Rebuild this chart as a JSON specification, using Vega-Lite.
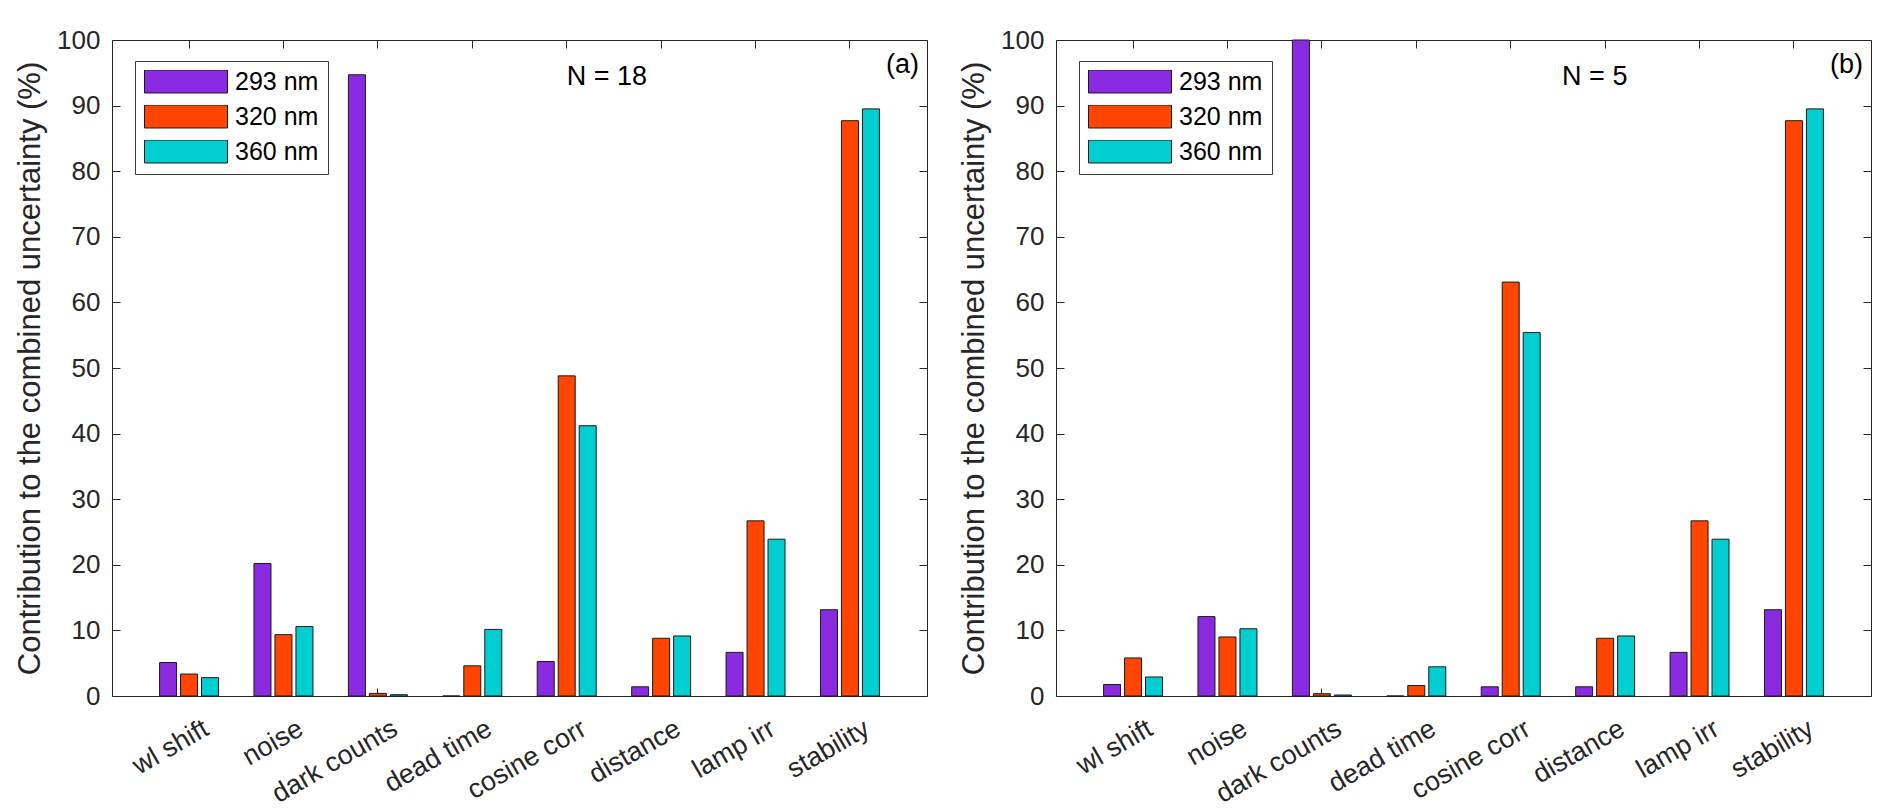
{
  "$schema": "https://vega.github.io/schema/vega-lite/v6.json",
  "description": "Contribution of each uncertainty source to the combined uncertainty at three wavelengths, for N = 18 and N = 5.",
  "padding": {"left": 14, "top": 27, "right": 5, "bottom": 5},
  "spacing": 30,
  "datasets": {
    "n18": [
      {"factor": "wl shift", "wl": "293 nm", "pct": 5.1},
      {"factor": "wl shift", "wl": "320 nm", "pct": 3.35},
      {"factor": "wl shift", "wl": "360 nm", "pct": 2.8},
      {"factor": "noise", "wl": "293 nm", "pct": 20.2},
      {"factor": "noise", "wl": "320 nm", "pct": 9.35},
      {"factor": "noise", "wl": "360 nm", "pct": 10.6},
      {"factor": "dark counts", "wl": "293 nm", "pct": 94.7},
      {"factor": "dark counts", "wl": "320 nm", "pct": 0.4},
      {"factor": "dark counts", "wl": "360 nm", "pct": 0.2},
      {"factor": "dead time", "wl": "293 nm", "pct": 0},
      {"factor": "dead time", "wl": "320 nm", "pct": 4.6},
      {"factor": "dead time", "wl": "360 nm", "pct": 10.15},
      {"factor": "cosine corr", "wl": "293 nm", "pct": 5.25},
      {"factor": "cosine corr", "wl": "320 nm", "pct": 48.8},
      {"factor": "cosine corr", "wl": "360 nm", "pct": 41.2},
      {"factor": "distance", "wl": "293 nm", "pct": 1.4},
      {"factor": "distance", "wl": "320 nm", "pct": 8.8},
      {"factor": "distance", "wl": "360 nm", "pct": 9.15},
      {"factor": "lamp irr", "wl": "293 nm", "pct": 6.65},
      {"factor": "lamp irr", "wl": "320 nm", "pct": 26.7},
      {"factor": "lamp irr", "wl": "360 nm", "pct": 23.9},
      {"factor": "stability", "wl": "293 nm", "pct": 13.15},
      {"factor": "stability", "wl": "320 nm", "pct": 87.7},
      {"factor": "stability", "wl": "360 nm", "pct": 89.5}
    ],
    "n5": [
      {"factor": "wl shift", "wl": "293 nm", "pct": 1.75},
      {"factor": "wl shift", "wl": "320 nm", "pct": 5.8},
      {"factor": "wl shift", "wl": "360 nm", "pct": 2.9},
      {"factor": "noise", "wl": "293 nm", "pct": 12.1},
      {"factor": "noise", "wl": "320 nm", "pct": 9.0},
      {"factor": "noise", "wl": "360 nm", "pct": 10.25},
      {"factor": "dark counts", "wl": "293 nm", "pct": 100},
      {"factor": "dark counts", "wl": "320 nm", "pct": 0.35},
      {"factor": "dark counts", "wl": "360 nm", "pct": 0.15},
      {"factor": "dead time", "wl": "293 nm", "pct": 0},
      {"factor": "dead time", "wl": "320 nm", "pct": 1.6},
      {"factor": "dead time", "wl": "360 nm", "pct": 4.45},
      {"factor": "cosine corr", "wl": "293 nm", "pct": 1.4},
      {"factor": "cosine corr", "wl": "320 nm", "pct": 63.1},
      {"factor": "cosine corr", "wl": "360 nm", "pct": 55.4},
      {"factor": "distance", "wl": "293 nm", "pct": 1.4},
      {"factor": "distance", "wl": "320 nm", "pct": 8.8},
      {"factor": "distance", "wl": "360 nm", "pct": 9.15},
      {"factor": "lamp irr", "wl": "293 nm", "pct": 6.65},
      {"factor": "lamp irr", "wl": "320 nm", "pct": 26.7},
      {"factor": "lamp irr", "wl": "360 nm", "pct": 23.9},
      {"factor": "stability", "wl": "293 nm", "pct": 13.15},
      {"factor": "stability", "wl": "320 nm", "pct": 87.7},
      {"factor": "stability", "wl": "360 nm", "pct": 89.5}
    ]
  },
  "hconcat": [
    {
      "width": 815,
      "height": 656,
      "layer": [
        {
          "data": {"name": "n18"},
          "mark": {"type": "bar", "stroke": "#1a1a1a", "strokeWidth": 1},
          "encoding": {
            "x": {
              "field": "factor",
              "type": "nominal",
              "sort": null,
              "scale": {
                "domain": ["wl shift", "noise", "dark counts", "dead time", "cosine corr", "distance", "lamp irr", "stability"],
                "paddingInner": 0,
                "paddingOuter": 0.316
              },
              "axis": {"labelAngle": -30, "labelFontSize": 27, "labelPadding": 27, "labelOffset": 11, "labelLimit": 400},
              "title": null
            },
            "xOffset": {
              "field": "wl",
              "type": "nominal",
              "scale": {"paddingInner": 0.19, "paddingOuter": 0.845}
            },
            "y": {
              "field": "pct",
              "type": "quantitative",
              "scale": {"domain": [0, 100], "nice": false},
              "axis": {"values": [0, 10, 20, 30, 40, 50, 60, 70, 80, 90, 100], "labelPadding": 20},
              "title": "Contribution to the combined uncertainty (%)"
            },
            "color": {
              "field": "wl",
              "type": "nominal",
              "scale": {"domain": ["293 nm", "320 nm", "360 nm"], "range": ["#8A2BE2", "#FF4500", "#00CED1"]},
              "legend": {"title": null}
            }
          }
        },
        {
          "data": {"values": [{"factor": "cosine corr", "pct": 94.3, "note": "N = 18"}]},
          "mark": {"type": "text", "align": "left", "baseline": "middle", "fontSize": 27, "font": "Liberation Sans", "color": "#000000"},
          "encoding": {
            "x": {"field": "factor", "type": "nominal", "axis": {"orient": "top", "labels": false, "title": null}},
            "y": {"field": "pct", "type": "quantitative", "axis": {"orient": "right", "labels": false, "title": null, "values": [0, 10, 20, 30, 40, 50, 60, 70, 80, 90, 100]}},
            "text": {"field": "note"}
          }
        },
        {
          "data": {"values": [{"factor": "stability", "pct": 96.2, "note": "(a)"}]},
          "mark": {"type": "text", "align": "left", "baseline": "middle", "dx": 36, "fontSize": 27, "font": "Liberation Sans", "color": "#000000"},
          "encoding": {
            "x": {"field": "factor", "type": "nominal", "axis": null},
            "y": {"field": "pct", "type": "quantitative", "axis": null},
            "text": {"field": "note"}
          }
        }
      ],
      "resolve": {"axis": {"x": "independent", "y": "independent"}}
    },
    {
      "width": 815,
      "height": 656,
      "layer": [
        {
          "data": {"name": "n5"},
          "mark": {"type": "bar", "stroke": "#1a1a1a", "strokeWidth": 1},
          "encoding": {
            "x": {
              "field": "factor",
              "type": "nominal",
              "sort": null,
              "scale": {
                "domain": ["wl shift", "noise", "dark counts", "dead time", "cosine corr", "distance", "lamp irr", "stability"],
                "paddingInner": 0,
                "paddingOuter": 0.316
              },
              "axis": {"labelAngle": -30, "labelFontSize": 27, "labelPadding": 27, "labelOffset": 11, "labelLimit": 400},
              "title": null
            },
            "xOffset": {
              "field": "wl",
              "type": "nominal",
              "scale": {"paddingInner": 0.19, "paddingOuter": 0.845}
            },
            "y": {
              "field": "pct",
              "type": "quantitative",
              "scale": {"domain": [0, 100], "nice": false},
              "axis": {"values": [0, 10, 20, 30, 40, 50, 60, 70, 80, 90, 100], "labelPadding": 20},
              "title": "Contribution to the combined uncertainty (%)"
            },
            "color": {
              "field": "wl",
              "type": "nominal",
              "scale": {"domain": ["293 nm", "320 nm", "360 nm"], "range": ["#8A2BE2", "#FF4500", "#00CED1"]},
              "legend": {"title": null}
            }
          }
        },
        {
          "data": {"values": [{"factor": "distance", "pct": 94.3, "note": "N = 5"}]},
          "mark": {"type": "text", "align": "left", "baseline": "middle", "dx": -43, "fontSize": 27, "font": "Liberation Sans", "color": "#000000"},
          "encoding": {
            "x": {"field": "factor", "type": "nominal", "axis": {"orient": "top", "labels": false, "title": null}},
            "y": {"field": "pct", "type": "quantitative", "axis": {"orient": "right", "labels": false, "title": null, "values": [0, 10, 20, 30, 40, 50, 60, 70, 80, 90, 100]}},
            "text": {"field": "note"}
          }
        },
        {
          "data": {"values": [{"factor": "stability", "pct": 96.2, "note": "(b)"}]},
          "mark": {"type": "text", "align": "left", "baseline": "middle", "dx": 36, "fontSize": 27, "font": "Liberation Sans", "color": "#000000"},
          "encoding": {
            "x": {"field": "factor", "type": "nominal", "axis": null},
            "y": {"field": "pct", "type": "quantitative", "axis": null},
            "text": {"field": "note"}
          }
        }
      ],
      "resolve": {"axis": {"x": "independent", "y": "independent"}}
    }
  ],
  "resolve": {"scale": {"color": "independent"}, "legend": {"color": "independent"}},
  "config": {
    "view": {"stroke": null},
    "font": "Liberation Sans",
    "axis": {
      "grid": false,
      "zindex": 1,
      "domainColor": "#262626",
      "domainWidth": 1,
      "tickColor": "#262626",
      "tickWidth": 1,
      "tickSize": -8,
      "labelColor": "#262626",
      "labelFont": "Liberation Sans",
      "labelFontSize": 26,
      "titleColor": "#262626",
      "titleFont": "Liberation Sans",
      "titleFontSize": 31,
      "titleFontWeight": "normal",
      "titlePadding": 10
    },
    "legend": {
      "orient": "none",
      "legendX": 23,
      "legendY": 21,
      "direction": "vertical",
      "fillColor": "#ffffff",
      "strokeColor": "#3a3a3a",
      "padding": 9,
      "cornerRadius": 0,
      "symbolType": "M-1,-0.277L1,-0.277L1,0.277L-1,0.277Z",
      "symbolSize": 6889,
      "symbolStrokeColor": "#1a1a1a",
      "symbolStrokeWidth": 1,
      "symbolOpacity": 1,
      "clipHeight": 23,
      "rowPadding": 9,
      "labelOffset": 7,
      "labelFont": "Liberation Sans",
      "labelFontSize": 25,
      "labelColor": "#000000",
      "labelLimit": 300
    }
  }
}
